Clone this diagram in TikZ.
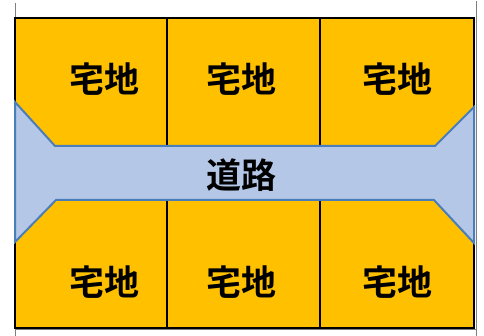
\documentclass[tikz,border=0pt]{standalone}
\usepackage{fontspec}
\newfontfamily\cjk{Noto Sans CJK JP}[BoldFont={Noto Sans CJK JP Bold}]
\definecolor{lotorange}{HTML}{FFC000}
\definecolor{roadfill}{HTML}{B4C7E7}
\definecolor{roadline}{HTML}{4A7EBB}
\definecolor{gridgray}{HTML}{7F7F7F}
\tikzset{
  lot/.style={fill=lotorange,draw=black,line width=2pt},
  road/.style={fill=roadfill,draw=roadline,line width=2pt,line join=miter},
  grid/.style={draw=gridgray,line width=1pt},
  lbl/.style={font=\cjk\bfseries\fontsize{35}{35}\selectfont,inner sep=0pt,text=black}
}
\begin{document}
\begin{tikzpicture}[x=1pt,y=-1pt]
\useasboundingbox (0,0) rectangle (484,336);
% gray grid lines
\draw[grid] (15,3) -- (15,336);
\draw[grid] (476,1) -- (476,336);
\draw[grid] (15,329.5) -- (476,329.5);
% lots
\foreach \xa/\xb in {15/167,167/320,320/474}{
  \draw[lot] (\xa,18) rectangle (\xb,146);
  \draw[lot] (\xa,200) rectangle (\xb,327.5);
}
% road
\draw[road] (15,102) -- (55,146) -- (435,146) -- (474,107) -- (474,243)
  -- (434,200) -- (56,200) -- (15,242) -- cycle;
% labels
\node[lbl] (t1) at (104,79) {宅地};
\node[lbl] (t2) at (241,79) {宅地};
\node[lbl] (t3) at (397,79) {宅地};
\node[lbl] (b1) at (104.5,282.5) {宅地};
\node[lbl] (b2) at (241.5,282.5) {宅地};
\node[lbl] (b3) at (397,282.5) {宅地};
\node[lbl] (road) at (241,175) {道路};
\end{tikzpicture}
\end{document}
